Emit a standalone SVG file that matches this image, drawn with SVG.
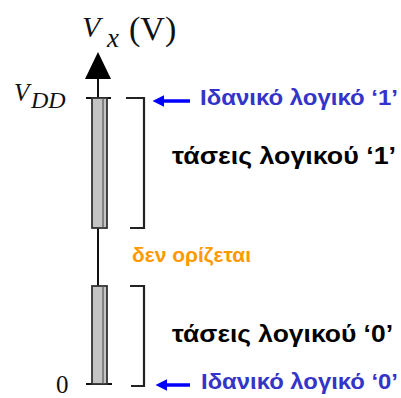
<svg xmlns="http://www.w3.org/2000/svg" width="401" height="398" viewBox="0 0 401 398">
<style>
.ser{font-family:"Liberation Serif","Times New Roman",serif;fill:#111}
.it{font-style:italic}
.lbl{font-family:"Liberation Sans",Arial,sans-serif;font-weight:bold}
.blue{fill:#3434c8}
.blk{fill:#000}
.org{fill:#ff9900}
.bar{fill:#c4c4c4;stroke:#333;stroke-width:1.8}
.ln{stroke:#111;stroke-width:2;fill:none}
.br{stroke:#222;stroke-width:2.2;fill:none}
.barr{stroke:#0000ff;stroke-width:3.5;fill:none}
</style>
<defs>
<marker id="bh" viewBox="0 0 10 10" refX="2" refY="5" markerWidth="3.4" markerHeight="3.4" orient="auto-start-reverse" markerUnits="strokeWidth">
<path d="M0,0 L10,5 L0,10 z" fill="#0000ff"/>
</marker>
</defs>
<rect width="401" height="398" fill="#fff"/>
<g id="axis">
<line class="ln" x1="98" y1="78" x2="98" y2="384"/>
<polygon points="98,52 85,79 111,79" fill="#000"/>
<text class="ser it" x="82" y="37" font-size="30">V</text>
<text class="ser it" x="107" y="47" font-size="27">x</text>
<text class="ser" x="129" y="40" font-size="34">(V)</text>
</g>
<g id="vdd">
<text class="ser it" x="14" y="101" font-size="25">V</text>
<text class="ser it" x="31" y="108" font-size="24">DD</text>
<line class="ln" x1="86" y1="98" x2="111" y2="98"/>
</g>
<g id="zero">
<text class="ser" x="56" y="393" font-size="25">0</text>
<line class="ln" x1="86" y1="384" x2="112" y2="384"/>
</g>
<g id="bar-high">
<rect class="bar" x="92" y="98" width="15" height="130"/>
<line x1="103" y1="98" x2="103" y2="228" stroke="#555" stroke-width="1.2"/>
</g>
<g id="bar-low">
<rect class="bar" x="92" y="286" width="15" height="98"/>
<line x1="103" y1="286" x2="103" y2="384" stroke="#555" stroke-width="1.2"/>
</g>
<g id="connectors">
<polyline class="br" points="126,98 144,98 144,228 130,228"/>
<polyline class="br" points="130,286 144,286 144,386 131,386"/>
<line class="barr" x1="190" y1="101" x2="162" y2="101" marker-end="url(#bh)"/>
<line class="barr" x1="190" y1="385" x2="165" y2="385" marker-end="url(#bh)"/>
</g>
<g id="ideal-1"><text class="lbl blue" x="200" y="105" font-size="22.5" textLength="198" lengthAdjust="spacingAndGlyphs">Ιδανικό λογικό ‘1’</text></g>
<g id="range-1"><text class="lbl blk" x="172" y="164" font-size="23" textLength="224" lengthAdjust="spacingAndGlyphs">τάσεις λογικού ‘1’</text></g>
<g id="undef"><text class="lbl org" x="132" y="262" font-size="20.5" textLength="119" lengthAdjust="spacingAndGlyphs">δεν ορίζεται</text></g>
<g id="range-0"><text class="lbl blk" x="172" y="342" font-size="23" textLength="221" lengthAdjust="spacingAndGlyphs">τάσεις λογικού ‘0’</text></g>
<g id="ideal-0"><text class="lbl blue" x="201" y="389" font-size="22.5" textLength="197" lengthAdjust="spacingAndGlyphs">Ιδανικό λογικό ‘0’</text></g>
</svg>
